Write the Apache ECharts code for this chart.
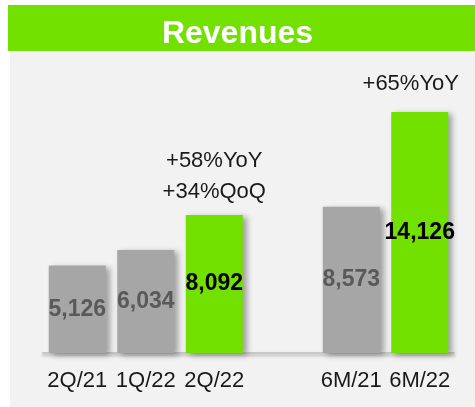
<!DOCTYPE html>
<html>
<head>
<meta charset="utf-8">
<script src="https://cdn.jsdelivr.net/npm/echarts@6/dist/echarts.min.js"></script>
<style>
  html, body { margin: 0; padding: 0; background: #fff; }
  #chart { width: 475px; height: 407px; }
</style>
</head>
<body>
<div id="chart"></div>
<script>
// chart data
var categories = ['2Q/21', '1Q/22', '2Q/22', '', '6M/21', '6M/22'];
var revenues = [5126, 6034, 8092, null, 8573, 14126];
var highlighted = [false, false, true, false, false, true];
var notes = ['', '', '+58%YoY\n+34%QoQ', '', '', '+65%YoY'];

var GREEN = '#73e100';
var GREY = '#a6a6a6';
var FONT = '"Liberation Sans", Arial, sans-serif';

var chart = echarts.init(document.getElementById('chart'));

var barData = revenues.map(function (v, i) {
  if (v == null) return null;
  return {
    value: v,
    itemStyle: { color: highlighted[i] ? GREEN : GREY },
    label: { color: highlighted[i] ? '#000' : '#595959' }
  };
});

var noteData = revenues.map(function (v, i) {
  if (v == null) return null;
  var item = { value: v };
  if (i === 5) item.label = { offset: [-9, -6] };
  return item;
});

chart.setOption({
  animation: false,
  backgroundColor: '#fff',
  title: {
    text: 'Revenues',
    left: 'center',
    top: 13,
    textStyle: { color: '#fff', fontSize: 32, fontWeight: 'bold', fontFamily: FONT }
  },
  graphic: [
    { type: 'rect', z: -10, shape: { x: 10, y: 51, width: 465, height: 356 }, style: { fill: '#f2f2f2' } },
    { type: 'rect', z: -10, shape: { x: 8, y: 5, width: 467, height: 46 }, style: { fill: GREEN } }
  ],
  grid: { left: 43, right: 21, top: 80, bottom: 54 },
  xAxis: {
    type: 'category',
    data: categories,
    axisTick: { show: false },
    axisLine: {
      lineStyle: { color: '#c8c8c8', width: 2, shadowColor: 'rgba(0,0,0,0.25)', shadowBlur: 3, shadowOffsetY: 2 }
    },
    axisLabel: { interval: 0, margin: 17, fontSize: 22, color: '#1a1a1a', fontFamily: FONT }
  },
  yAxis: { type: 'value', min: 0, max: 16000, show: false, splitLine: { show: false } },
  series: [
    {
      name: 'Revenues',
      type: 'bar',
      barWidth: 57,
      data: barData,
      itemStyle: {
        shadowColor: 'rgba(0,0,0,0.35)', shadowBlur: 6, shadowOffsetX: 4, shadowOffsetY: 2
      },
      label: {
        show: true,
        position: 'inside',
        fontSize: 23,
        fontWeight: 'bold',
        fontFamily: FONT,
        formatter: function (p) { return p.value.toLocaleString('en-US'); }
      }
    },
    {
      name: 'notes',
      type: 'bar',
      barWidth: 57,
      barGap: '-100%',
      silent: true,
      data: noteData,
      itemStyle: { color: 'rgba(0,0,0,0)' },
      label: {
        show: true,
        position: 'top',
        distance: 7,
        fontSize: 22,
        lineHeight: 31,
        color: '#1a1a1a',
        fontFamily: FONT,
        formatter: function (p) { return notes[p.dataIndex]; }
      }
    }
  ]
});
</script>
</body>
</html>
